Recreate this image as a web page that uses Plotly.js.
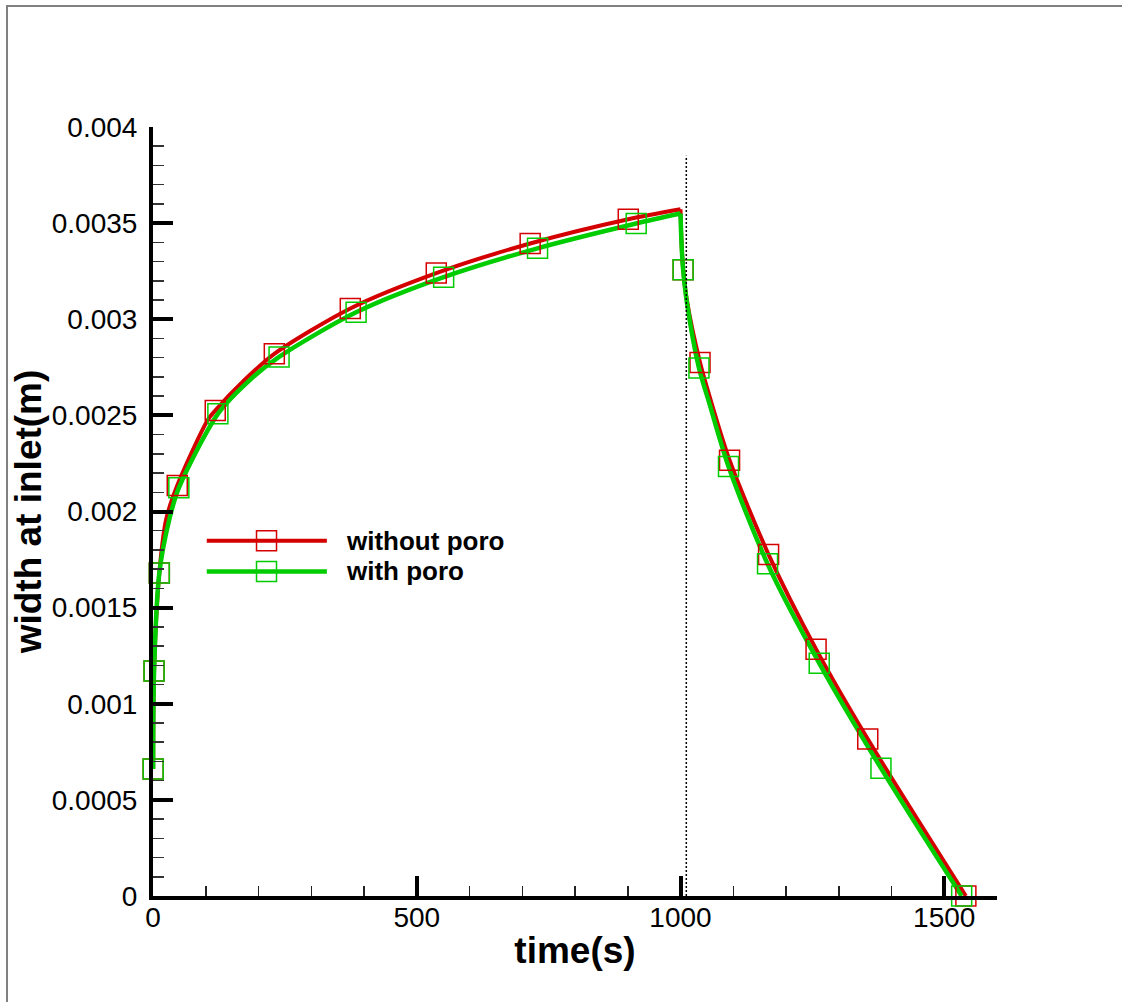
<!DOCTYPE html>
<html>
<head>
<meta charset="utf-8">
<script src="https://cdn.plot.ly/plotly-3.0.1.min.js"></script>
<style>
  html, body { margin: 0; padding: 0; background: #ffffff; overflow: hidden; }
  #wrap { position: relative; width: 1122px; height: 1002px; }
  #frame { position: absolute; left: 6px; top: 5px; width: 1200px; height: 1100px;
           border: 2px solid #808080; box-sizing: border-box; pointer-events: none; z-index: 5; }
  #chart { position: absolute; left: 0; top: 0; width: 1122px; height: 1002px; }
</style>
</head>
<body>
<div id="wrap">
  <div id="chart"></div>
  <div id="frame"></div>
</div>
<script>
// ---- data ----
// loading phase (time in s, width at inlet in m)
var redRiseT   = [0.3, 2, 12, 25, 46, 104, 118, 174, 230, 374, 537, 715, 901, 1000];
var redRiseW   = [0.00066, 0.00117, 0.00168, 0.00196, 0.002135, 0.002477, 0.002525, 0.002685, 0.00282, 0.003056, 0.00324, 0.003394, 0.00352, 0.003572];
var greenRiseT = [0.3, 2, 12, 31, 49, 123, 184, 239, 385, 551, 729, 916, 1000];
var greenRiseW = [0.00066, 0.00117, 0.00168, 0.00196, 0.002123, 0.002508, 0.002685, 0.002804, 0.003036, 0.003219, 0.003369, 0.003498, 0.00355];
// closing phase
var redFallT   = [1000, 1002, 1005, 1012, 1037, 1057, 1093, 1167, 1257, 1355, 1541];
var redFallW   = [0.003572, 0.00340, 0.003258, 0.00310, 0.002775, 0.002581, 0.002267, 0.001776, 0.001284, 0.000816, 0];
var greenFallT = [1000, 1002, 1005, 1012, 1035, 1055, 1091, 1165, 1263, 1380, 1533];
var greenFallW = [0.00355, 0.00339, 0.003258, 0.00309, 0.002746, 0.002560, 0.002234, 0.001728, 0.001211, 0.000665, 0];
// symbol positions
var redMarkT   = [0.3, 2, 12, 46, 118, 230, 374, 537, 715, 901, 1005, 1037, 1093, 1167, 1257, 1355, 1541];
var redMarkW   = [0.00066, 0.00117, 0.00168, 0.002135, 0.002525, 0.00282, 0.003056, 0.00324, 0.003394, 0.00352, 0.003258, 0.002775, 0.002267, 0.001776, 0.001284, 0.000816, 0];
var greenMarkT = [0.3, 2, 12, 49, 123, 239, 385, 551, 729, 916, 1005, 1035, 1091, 1165, 1263, 1380, 1533];
var greenMarkW = [0.00066, 0.00117, 0.00168, 0.002123, 0.002508, 0.002804, 0.003036, 0.003219, 0.003369, 0.003498, 0.003258, 0.002746, 0.002234, 0.001728, 0.001211, 0.000665, 0];
// dotted reference line
var dottedT = [1011, 1011];
var dottedW = [0, 0.00385];
// ticks
var xTickVals = [0, 500, 1000, 1500];
var xTickText = ['0', '500', '1000', '1500'];
var yTickVals = [0, 0.0005, 0.001, 0.0015, 0.002, 0.0025, 0.003, 0.0035, 0.004];
var yTickText = ['0', '0.0005', '0.001', '0.0015', '0.002', '0.0025', '0.003', '0.0035', '0.004'];
var seriesNames = ['without poro', 'with poro'];

// ---- styles ----
var RED = '#d40000';
var GREEN = '#00cc00';
var FONT = 'Liberation Sans, Arial, Helvetica, sans-serif';

function lineTrace(x, y, color, w) {
  return { x: x, y: y, type: 'scatter', mode: 'lines',
           line: { color: color, width: w, shape: 'spline', smoothing: 0.8 },
           hoverinfo: 'skip', showlegend: false };
}
function markTrace(x, y, color) {
  return { x: x, y: y, type: 'scatter', mode: 'markers', cliponaxis: false,
           marker: { symbol: 'square-open', size: 20, color: color, line: { width: 1.5, color: color } },
           hoverinfo: 'skip', showlegend: false };
}

var traces = [
  lineTrace(redRiseT, redRiseW, RED, 4),
  lineTrace(redFallT, redFallW, RED, 4),
  lineTrace(greenRiseT, greenRiseW, GREEN, 4.5),
  lineTrace(greenFallT, greenFallW, GREEN, 4.5),
  markTrace(redMarkT, redMarkW, RED),
  markTrace(greenMarkT, greenMarkW, GREEN),
  { x: dottedT, y: dottedW, type: 'scatter', mode: 'lines',
    line: { color: '#000000', width: 1.5, dash: '2px,2px' }, hoverinfo: 'skip', showlegend: false }
];

// legend drawn as decoration (paper coordinates)
var legY = [0.462, 0.422];
var legColors = [RED, GREEN];
var shapes = [];
var annotations = [];
for (var i = 0; i < 2; i++) {
  shapes.push({ type: 'line', xref: 'paper', yref: 'paper', x0: 0.0637, x1: 0.206, y0: legY[i], y1: legY[i],
                line: { color: legColors[i], width: i === 0 ? 4 : 4.5 } });
  shapes.push({ type: 'rect', xref: 'paper', yref: 'paper', xsizemode: 'pixel', ysizemode: 'pixel',
                xanchor: 0.1345, yanchor: legY[i], x0: -10, x1: 10, y0: -10, y1: 10,
                line: { color: legColors[i], width: 1.5 }, fillcolor: 'rgba(0,0,0,0)' });
  annotations.push({ xref: 'paper', yref: 'paper', x: 0.2265, y: legY[i], xanchor: 'left', yanchor: 'middle',
                     text: seriesNames[i], showarrow: false,
                     font: { family: FONT, size: 26, color: '#000000', weight: 'bold' } });
}

var layout = {
  width: 1122, height: 1002,
  margin: { l: 153, r: 125, t: 127, b: 106, pad: 0 },
  paper_bgcolor: '#ffffff', plot_bgcolor: '#ffffff',
  showlegend: false,
  font: { family: FONT, color: '#000000' },
  xaxis: {
    range: [0, 1600], showgrid: false, zeroline: false,
    showline: true, linecolor: '#000000', linewidth: 4,
    ticks: 'inside', ticklen: 20, tickwidth: 4, tickcolor: '#000000',
    tickmode: 'array', tickvals: xTickVals, ticktext: xTickText,
    minor: { tickmode: 'linear', tick0: 0, dtick: 100, ticks: 'inside', ticklen: 10, tickwidth: 1.5, tickcolor: '#222222', showgrid: false },
    tickfont: { family: FONT, size: 28, color: '#000000' },
    ticklabelstandoff: -7,
    title: { text: 'time(s)', font: { family: FONT, size: 37, color: '#000000', weight: 'bold' }, standoff: 7 }
  },
  yaxis: {
    range: [0, 0.004], showgrid: false, zeroline: false,
    showline: true, linecolor: '#000000', linewidth: 4,
    ticks: 'inside', ticklen: 20, tickwidth: 4, tickcolor: '#000000',
    tickmode: 'array', tickvals: yTickVals, ticktext: yTickText,
    minor: { tickmode: 'linear', tick0: 0, dtick: 0.0001, ticks: 'inside', ticklen: 11, tickwidth: 1.5, tickcolor: '#333333', showgrid: false },
    tickfont: { family: FONT, size: 28, color: '#000000' },
    ticklabelstandoff: 6,
    title: { text: 'width at inlet(m)', font: { family: FONT, size: 37, color: '#000000', weight: 'bold' }, standoff: 0 }
  },
  shapes: shapes,
  annotations: annotations
};

Plotly.newPlot('chart', traces, layout, { staticPlot: true, displayModeBar: false });
</script>
</body>
</html>
